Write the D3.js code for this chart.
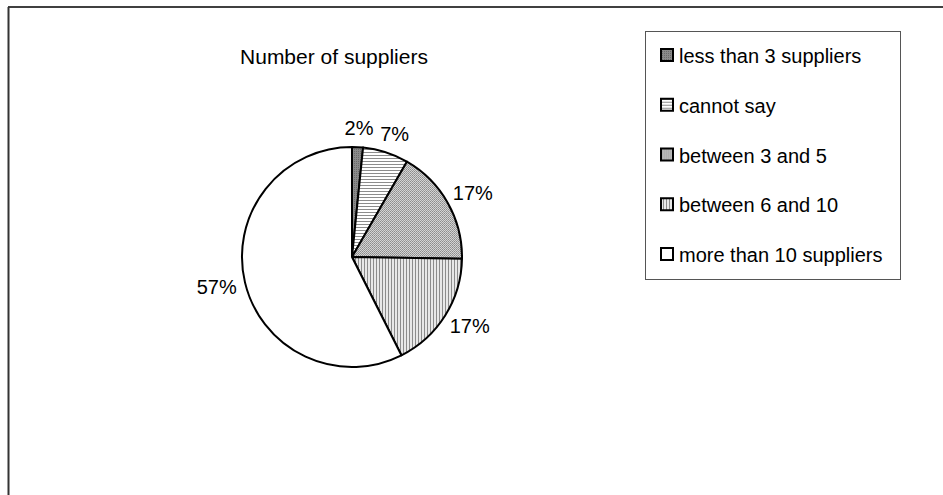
<!DOCTYPE html>
<html>
<head>
<meta charset="utf-8">
<script src="https://cdn.jsdelivr.net/npm/d3@7"></script>
<style>
  body { margin: 0; background: #fff; }
  text { font-family: "Liberation Sans", Arial, sans-serif; fill: #000; }
</style>
</head>
<body>
<script>
// data
var categories = ['less than 3 suppliers', 'cannot say', 'between 3 and 5', 'between 6 and 10', 'more than 10 suppliers'];
var values = [1.6, 6.7, 16.9, 17.3, 57.3];
var fills = ['url(#p0)', 'url(#p1)', 'url(#p2)', 'url(#p3)', '#fff'];
var title = 'Number of suppliers';

var width = 943,
	height = 495;

var svg = d3.select('body').append('svg')
	.attr('width', width)
	.attr('height', height);

// patterns
var defs = svg.append('defs');

var p0 = defs.append('pattern').attr('id', 'p0')
	.attr('width', 2).attr('height', 2).attr('patternUnits', 'userSpaceOnUse');
p0.append('rect').attr('width', 2).attr('height', 2).attr('fill', '#8a8a8a');
p0.append('rect').attr('width', 1).attr('height', 1).attr('fill', '#6a6a6a');

var p1 = defs.append('pattern').attr('id', 'p1')
	.attr('width', 3).attr('height', 3).attr('patternUnits', 'userSpaceOnUse');
p1.append('rect').attr('width', 3).attr('height', 3).attr('fill', '#fff');
p1.append('rect').attr('width', 3).attr('height', 1).attr('fill', '#8c8c8c');

var p2 = defs.append('pattern').attr('id', 'p2')
	.attr('width', 2).attr('height', 2).attr('patternUnits', 'userSpaceOnUse');
p2.append('rect').attr('width', 2).attr('height', 2).attr('fill', '#d4d4d4');
p2.append('rect').attr('width', 1).attr('height', 1).attr('fill', '#8c8c8c');
p2.append('rect').attr('x', 1).attr('y', 1).attr('width', 1).attr('height', 1).attr('fill', '#9c9c9c');

var p3 = defs.append('pattern').attr('id', 'p3')
	.attr('width', 3).attr('height', 3).attr('patternUnits', 'userSpaceOnUse');
p3.append('rect').attr('width', 3).attr('height', 3).attr('fill', '#e8e8e8');
p3.append('rect').attr('width', 1).attr('height', 3).attr('fill', '#8c8c8c');

// frame (top and left only, the rest is cut off)
svg.append('line')
	.attr('x1', 8).attr('y1', 7).attr('x2', width).attr('y2', 7)
	.attr('stroke', '#000').attr('stroke-width', 1.5);
svg.append('line')
	.attr('x1', 8.5).attr('y1', 7).attr('x2', 8.5).attr('y2', height)
	.attr('stroke', '#333').attr('stroke-width', 2);

svg.append('text')
	.attr('x', 334).attr('y', 64)
	.attr('text-anchor', 'middle')
	.style('font-size', '21px')
	.text(title);

// pie
var cx = 352, cy = 257, r = 110;

var pie = d3.pie().sort(null).value(function (d) { return d; });
var arcs = pie(values);
var total = d3.sum(values);

var arc = d3.arc().innerRadius(0).outerRadius(r);

var g = svg.append('g').attr('transform', 'translate(' + cx + ',' + cy + ')');

g.selectAll('.slice')
	.data(arcs)
	.enter().append('path')
	.attr('class', 'slice')
	.attr('d', arc)
	.attr('fill', function (d, i) { return fills[i]; })
	.attr('stroke', '#000')
	.attr('stroke-width', 2)
	.attr('stroke-linejoin', 'round');

// labels outside the pie
var labR = 119;
g.selectAll('.lab')
	.data(arcs)
	.enter().append('text')
	.attr('class', 'lab')
	.style('font-size', '20px')
	.attr('text-anchor', 'middle')
	.attr('dominant-baseline', 'central')
	.attr('transform', function (d) {
		var a = (d.startAngle + d.endAngle) / 2;
		var s = Math.sin(a), c = Math.cos(a);
		var x = labR * s + 20 * s;
		var y = -labR * c - 10 * c;
		return 'translate(' + x + ',' + y + ')';
	})
	.text(function (d) { return Math.round(d.value / total * 100) + '%'; });

// legend
var lx = 645.5, ly = 31.5, lw = 255, lh = 248;
var leg = svg.append('g');
leg.append('rect')
	.attr('x', lx).attr('y', ly).attr('width', lw).attr('height', lh)
	.attr('fill', '#fff').attr('stroke', '#555').attr('stroke-width', 1);

var rowY = d3.scalePoint().domain(categories).range([55, 254]);

var item = leg.selectAll('.item')
	.data(categories)
	.enter().append('g')
	.attr('class', 'item')
	.attr('transform', function (d) { return 'translate(0,' + rowY(d) + ')'; });

item.append('rect')
	.attr('x', 661).attr('y', -6)
	.attr('width', 12).attr('height', 12)
	.attr('fill', function (d, i) { return fills[i]; })
	.attr('stroke', '#000').attr('stroke-width', 2);

item.append('text')
	.attr('x', 679).attr('y', 1)
	.attr('dominant-baseline', 'central')
	.style('font-size', '20px')
	.text(function (d) { return d; });
</script>
</body>
</html>
